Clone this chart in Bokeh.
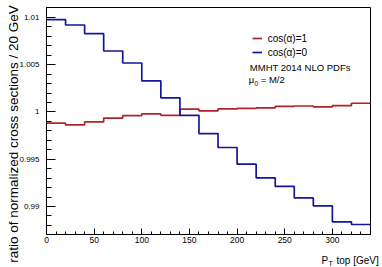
import math
from bokeh.plotting import figure
from bokeh.models import Range1d, FixedTicker, Label, Legend, LegendItem
from bokeh.embed import file_html
from bokeh.resources import INLINE

# ---- data ----
bin_edges = [0, 20, 40, 60, 80, 100, 120, 140, 160, 180, 200, 220, 240, 260, 280, 300, 320, 340]
ratio_cos1 = [0.99881, 0.99863, 0.99895, 0.99935, 0.99962, 0.99979, 0.99965,
              1.00031, 1.00012, 1.00032, 1.00037, 1.00044, 1.00060, 1.00063,
              1.00053, 1.00067, 1.00092]
ratio_cos0 = [1.00976, 1.00920, 1.00828, 1.00645, 1.00518, 1.00328, 1.00150,
              0.99965, 0.99772, 0.99624, 0.99448, 0.99303, 0.99212, 0.99091,
              0.99007, 0.98838, 0.98810]
series_labels = ["cos(α)=1", "cos(α)=0"]
x_ticks = [0, 50, 100, 150, 200, 250, 300]
x_minor = list(range(0, 341, 10))
y_ticks = [0.99, 0.995, 1.0, 1.005, 1.01]
y_tick_labels = ["0.99", "0.995", "1", "1.005", "1.01"]
y_minor = [round(0.987 + 0.001 * i, 3) for i in range(25)]
x_title_main = "P\u00a0\u00a0\u00a0top [GeV]"
x_title_sub = "T"
y_title = "ratio of normalized cross sections / 20 GeV"
note1 = "MMHT 2014 NLO PDFs"
note2 = ["μ", "0", "= M/2"]

# ---- geometry (canvas pixels) ----
W, H = 382, 267
FL, FR, FT, FB = 46, 370, 7, 234
x0, x1 = 0, 340
y0, y1 = 0.98704, 1.01105
FONT = "Liberation Sans"

def X(cx):
    return x0 + (cx - FL) * (x1 - x0) / (FR - FL)

def Y(cy):
    return y1 - (cy - FT) * (y1 - y0) / (FB - FT)

p = figure(width=W, height=H, output_backend="svg", toolbar_location=None,
           title=None, x_range=Range1d(x0, x1), y_range=Range1d(y0, y1),
           min_border_left=FL, min_border_right=W - FR, min_border_top=FT,
           min_border_bottom=H - FB)
p.grid.visible = False
p.outline_line_color = "black"
p.outline_line_width = 1
p.background_fill_color = "white"
p.border_fill_color = "white"

RED = "#b02428"
BLUE = "#16169a"
r1 = p.step(x=bin_edges, y=ratio_cos1 + [ratio_cos1[-1]], mode="after",
            line_color=RED, line_width=1.7)
r0 = p.step(x=bin_edges, y=ratio_cos0 + [ratio_cos0[-1]], mode="after",
            line_color=BLUE, line_width=1.7)

xa = p.xaxis[0]
xa.ticker = FixedTicker(ticks=x_ticks, minor_ticks=x_minor)
xa.major_tick_in = 6
xa.major_tick_out = 0
xa.minor_tick_in = 3
xa.minor_tick_out = 0
xa.major_label_standoff = 2
xa.major_label_text_font = FONT
xa.major_label_text_font_size = "8.5px"
xa.major_label_text_color = "black"
xa.axis_line_color = "black"
xa.major_tick_line_color = "black"
xa.minor_tick_line_color = "black"

ya = p.yaxis[0]
ya.ticker = FixedTicker(ticks=y_ticks, minor_ticks=y_minor)
ya.major_label_overrides = {t: s for t, s in zip(y_ticks, y_tick_labels)}
ya.major_tick_in = 9
ya.major_tick_out = 0
ya.minor_tick_in = 5
ya.minor_tick_out = 0
ya.major_label_standoff = 7
ya.major_label_text_font = FONT
ya.major_label_text_font_size = "8px"
ya.major_label_text_color = "black"
ya.axis_line_color = "black"
ya.major_tick_line_color = "black"
ya.minor_tick_line_color = "black"

legend = Legend(items=[LegendItem(label=series_labels[0], renderers=[r1]),
                       LegendItem(label=series_labels[1], renderers=[r0])],
                location=(205.7, 174.7), orientation="vertical",
                glyph_width=10, glyph_height=14, label_height=14,
                label_standoff=6, spacing=0, padding=0, margin=0,
                border_line_alpha=0, background_fill_alpha=0,
                label_text_font=FONT, label_text_font_size="10px",
                label_text_color="black")
p.add_layout(legend)

def lab(text, cx, cy, size, align="left", baseline="middle", angle=0.0,
        place="center"):
    p.add_layout(Label(x=X(cx), y=Y(cy), text=text, text_font=FONT,
                       text_font_size=size, text_align=align,
                       text_baseline=baseline, angle=angle,
                       text_color="black"), place)

lab(note1, 249.3, 66.7, "9.5px")
lab(note2[0], 248.3, 79.3, "9.5px")
lab(note2[1], 254.0, 82.5, "6.5px")
lab(note2[2], 260.2, 79.3, "9.5px")

# axis titles live in the side panels so they are not clipped by the frame
lab(y_title, 12.5, 133.5, "13.5px", align="center", baseline="alphabetic",
    angle=math.pi / 2, place="left")
lab(x_title_main, 321.0, 259.5, "10px", baseline="alphabetic", place="below")
lab(x_title_sub, 328.0, 262.5, "7px", baseline="alphabetic", place="right")

open("out.html", "w").write(file_html(p, INLINE))
